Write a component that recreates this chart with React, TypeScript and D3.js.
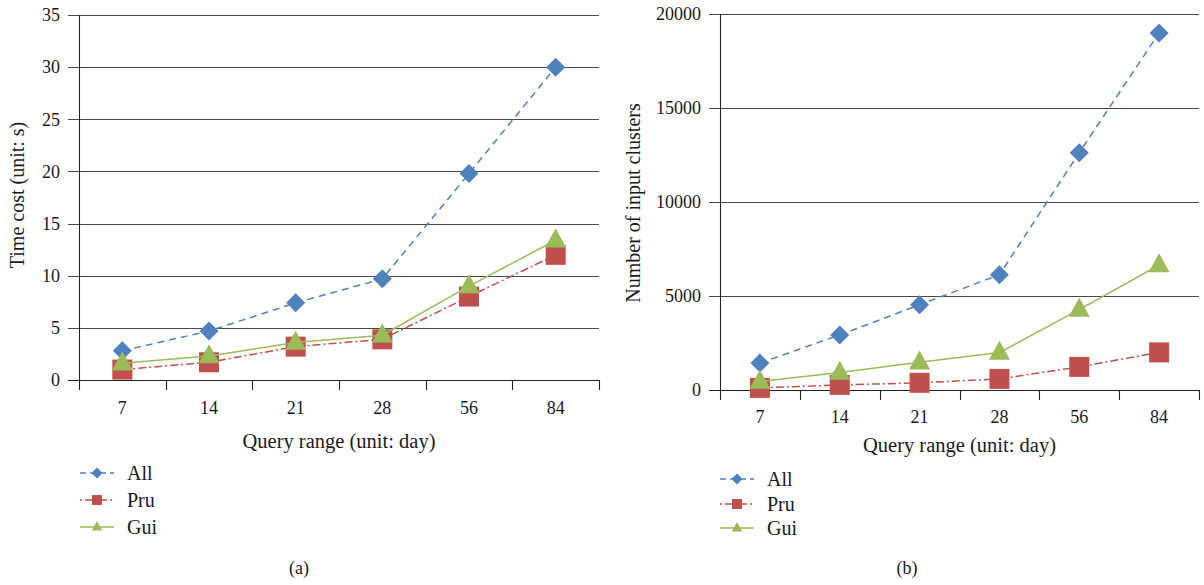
import React from "react";
import * as d3 from "d3";

const categories = ["7", "14", "21", "28", "56", "84"];
const seriesNames = ["All", "Pru", "Gui"];

const timeAll = [2.8, 4.7, 7.4, 9.7, 19.8, 30.0];
const timePru = [1.0, 1.7, 3.2, 3.9, 8.0, 12.0];
const timeGui = [1.6, 2.3, 3.6, 4.3, 9.0, 13.4];
const timeTicks = [0, 5, 10, 15, 20, 25, 30, 35];

const clusterAll = [1430, 2930, 4530, 6130, 12620, 18990];
const clusterPru = [110, 270, 380, 590, 1230, 2000];
const clusterGui = [450, 930, 1480, 1990, 4280, 6650];
const clusterTicks = [0, 5000, 10000, 15000, 20000];

const COLORS = ["#4F81BD", "#C0504D", "#9BBB59"];
const DASHES = ["7,5", "8,3,2,3", "none"];
const FONT = "'Liberation Serif', 'Times New Roman', serif";
const TEXT = "#1a1a1a";

function Marker({ kind, x, y, s, color }: { kind: number; x: number; y: number; s: number; color: string }) {
  if (kind === 0) {
    const h = s / 2;
    return <path d={`M${x},${y - h}L${x + h},${y}L${x},${y + h}L${x - h},${y}Z`} fill={color} />;
  }
  if (kind === 1) {
    return <rect x={x - s / 2} y={y - s / 2} width={s} height={s} fill={color} />;
  }
  const w = s * 1.05;
  const ht = s * 0.95;
  return <path d={`M${x},${y - ht * 0.62}L${x + w / 2},${y + ht * 0.38}L${x - w / 2},${y + ht * 0.38}Z`} fill={color} />;
}

type PanelProps = {
  left: number; right: number; top: number; bottom: number;
  ticks: number[]; series: number[][]; yTitle: string; yTitleX: number; yTitleY: number;
  legendX: number; legendY: number[]; caption: string; captionX: number;
  xLabelY: number; xTitleY: number; tickFmt: (v: number) => string;
};

function Panel(p: PanelProps) {
  const x = d3.scaleBand<string>().domain(categories).range([p.left, p.right]);
  const y = d3.scaleLinear().domain([0, p.ticks[p.ticks.length - 1]]).range([p.bottom, p.top]);
  const bounds = categories.map((c) => x(c)!).concat([p.right]);
  const line = d3.line<number>().x((_, i) => x(categories[i])! + x.bandwidth() / 2).y((v) => y(v));
  return (
    <g>
      {p.ticks.map((t) => (
        <g key={t}>
          <line x1={p.left - 11} x2={p.right} y1={Math.round(y(t)) + 0.5} y2={Math.round(y(t)) + 0.5} stroke={t === 0 ? "#222" : "#4a4a4a"} strokeWidth={1.1} />
          <text x={p.left - 19} y={y(t)} dy="0.35em" textAnchor="end" fontSize={18} fill={TEXT} fontFamily={FONT}>{p.tickFmt(t)}</text>
        </g>
      ))}
      <line x1={p.left + 0.5} x2={p.left + 0.5} y1={p.top} y2={p.bottom} stroke="#222" strokeWidth={1.1} />
      {bounds.map((b, i) => (
        <line key={i} x1={Math.round(b) + 0.5} x2={Math.round(b) + 0.5} y1={p.bottom} y2={p.bottom + 10} stroke="#222" strokeWidth={1.1} />
      ))}
      {categories.map((c) => (
        <text key={c} x={x(c)! + x.bandwidth() / 2} y={p.xLabelY} dy="0.35em" textAnchor="middle" fontSize={18} fill={TEXT} fontFamily={FONT}>{c}</text>
      ))}
      <text x={(p.left + p.right) / 2} y={p.xTitleY} dy="0.35em" textAnchor="middle" fontSize={20.5} fill={TEXT} fontFamily={FONT}>Query range (unit: day)</text>
      <text transform={`translate(${p.yTitleX},${p.yTitleY}) rotate(-90)`} dy="0.35em" textAnchor="middle" fontSize={20} fill={TEXT} fontFamily={FONT}>{p.yTitle}</text>
      {p.series.map((s, si) => (
        <g key={si}>
          <path d={line(s)!} fill="none" stroke={COLORS[si]} strokeWidth={1.5} strokeDasharray={DASHES[si]} />
          {s.map((v, i) => (
            <Marker key={i} kind={si} x={x(categories[i])! + x.bandwidth() / 2} y={y(v)} s={si === 0 ? 19 : 20} color={COLORS[si]} />
          ))}
        </g>
      ))}
      {seriesNames.map((n, si) => (
        <g key={n}>
          <line x1={p.legendX} x2={p.legendX + 34} y1={p.legendY[si]} y2={p.legendY[si]} stroke={COLORS[si]} strokeWidth={1.5} strokeDasharray={si === 0 ? "6,4" : si === 1 ? "2,3,7,3" : "none"} />
          <Marker kind={si} x={p.legendX + 17} y={p.legendY[si]} s={si === 0 ? 11 : 10} color={COLORS[si]} />
          <text x={p.legendX + 47} y={p.legendY[si]} dy="0.35em" fontSize={20} fill={TEXT} fontFamily={FONT}>{n}</text>
        </g>
      ))}
      <text x={p.captionX} y={568} dy="0.35em" textAnchor="middle" fontSize={18} fill={TEXT} fontFamily={FONT}>{p.caption}</text>
    </g>
  );
}

export default function App() {
  return (
    <svg width={1204} height={585} style={{ position: "absolute", left: 0, top: 0, background: "#fff" }}>
      <rect width={1204} height={585} fill="#fff" />
      <Panel left={79} right={599} top={15} bottom={380} ticks={timeTicks} series={[timeAll, timePru, timeGui]}
        yTitle="Time cost (unit: s)" yTitleX={17} yTitleY={195} legendX={80} legendY={[473, 500, 527]}
        caption="(a)" captionX={299} xLabelY={408} xTitleY={441} tickFmt={(v) => String(v)} />
      <Panel left={720} right={1199} top={14} bottom={390} ticks={clusterTicks} series={[clusterAll, clusterPru, clusterGui]}
        yTitle="Number of input clusters" yTitleX={633} yTitleY={203} legendX={720} legendY={[479, 504, 528]}
        caption="(b)" captionX={907} xLabelY={417} xTitleY={445} tickFmt={(v) => String(v)} />
    </svg>
  );
}
